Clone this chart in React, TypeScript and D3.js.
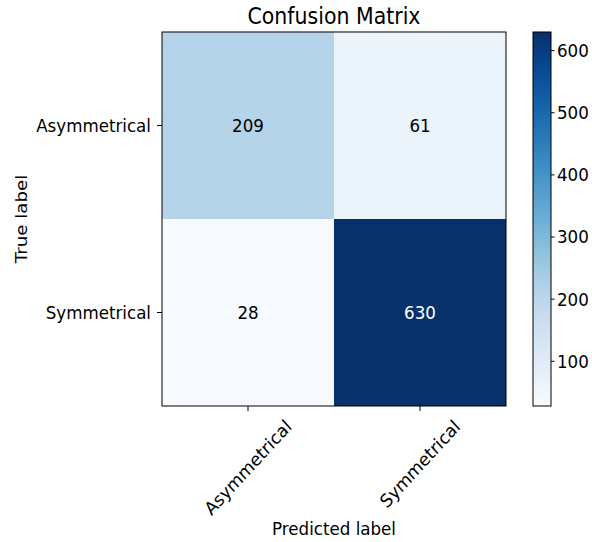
import React from 'react';
import * as d3 from 'd3';

const classes = ['Asymmetrical', 'Symmetrical'];
// rows = true label, cols = predicted label
const matrix = [
    [209, 61],
    [28, 630],
];
const colorbarTicks = [100, 200, 300, 400, 500, 600];

const W = 592, H = 542;
const left = 162, right = 506, top = 32, bottom = 406;
const cbLeft = 533, cbRight = 551;
const font = 'DejaVu Sans, sans-serif';
const fs = 16.7;
const sy = 1.09; // the reference is stretched a little vertically

// matplotlib's Blues is a linear ramp over the 9 brewer colours
const blues = d3.piecewise(d3.interpolateRgb, d3.schemeBlues[9]);

function Label({ x, y, rotate = 0, anchor = 'middle', size = fs, fill = '#000', dy = '0', children }: any) {
    return (
        <text transform={`translate(${x}, ${y}) scale(1, ${sy}) rotate(${rotate})`} dy={dy} textAnchor={anchor}
            fontFamily={font} fontSize={size} fill={fill}>{children}</text>
    );
}

export default function App() {
    const flat = matrix.flat();
    const vmin = d3.min(flat) as number;
    const vmax = d3.max(flat) as number;
    const color = d3.scaleSequential(blues).domain([vmin, vmax]);

    const scaleX = d3.scaleBand().domain(classes).range([left, right]);
    const scaleY = d3.scaleBand().domain(classes).range([top, bottom]);
    const cbScale = d3.scaleLinear().domain([vmin, vmax]).range([bottom, top]);

    const thresh = vmax / 2;
    const gradStops = d3.range(0, 1.0001, 0.05);

    return (
        <svg width={W} height={H} style={{ position: 'absolute', left: 0, top: 0 }} xmlns="http://www.w3.org/2000/svg">
            <rect x={0} y={0} width={W} height={H} fill="#fff" />
            <defs>
                <linearGradient id="cb" x1="0" y1="1" x2="0" y2="0">
                    {gradStops.map((t, i) => <stop key={i} offset={t} stopColor={blues(t)} />)}
                </linearGradient>
            </defs>

            <Label x={(left + right) / 2} y={24} size={20.5}>Confusion Matrix</Label>

            {matrix.map((row, r) => row.map((v, c) => (
                <g key={`cell_${r}_${c}`}>
                    <rect x={scaleX(classes[c])} y={scaleY(classes[r])} width={scaleX.bandwidth()} height={scaleY.bandwidth()} fill={color(v)} />
                    <Label
                        x={(scaleX(classes[c]) as number) + scaleX.bandwidth() / 2}
                        y={(scaleY(classes[r]) as number) + scaleY.bandwidth() / 2}
                        dy="0.35em" fill={v > thresh ? '#fff' : '#000'}>{v}</Label>
                </g>
            )))}
            <rect x={left} y={top} width={right - left} height={bottom - top} fill="none" stroke="#000" strokeWidth={1} />

            {/* y ticks */}
            {classes.map((c, i) => {
                const y = (scaleY(c) as number) + scaleY.bandwidth() / 2;
                return (
                    <g key={`ty_${i}`}>
                        <line x1={left} x2={left - 5} y1={y} y2={y} stroke="#000" />
                        <Label x={left - 11} y={y} dy="0.35em" anchor="end">{c}</Label>
                    </g>
                );
            })}

            {/* x ticks, rotated 45 and centred under the tick */}
            {classes.map((c, i) => {
                const x = (scaleX(c) as number) + scaleX.bandwidth() / 2;
                const len = c.length * 0.565 * fs;
                const box = (len + fs * 1.15) * Math.SQRT1_2 * sy;
                const cy = bottom + 10.5 + box / 2;
                return (
                    <g key={`tx_${i}`}>
                        <line x1={x} x2={x} y1={bottom} y2={bottom + 5} stroke="#000" />
                        <Label x={x} y={cy} dy="0.35em" rotate={-45}>{c}</Label>
                    </g>
                );
            })}

            <Label x={(left + right) / 2} y={535}>Predicted label</Label>
            <Label x={27} y={(top + bottom) / 2} rotate={-90}>True label</Label>

            {/* colorbar */}
            <rect x={cbLeft} y={top} width={cbRight - cbLeft} height={bottom - top} fill="url(#cb)" stroke="#000" strokeWidth={1} />
            {colorbarTicks.map((v, i) => (
                <g key={`cb_${i}`}>
                    <line x1={cbRight} x2={cbRight + 3.5} y1={cbScale(v)} y2={cbScale(v)} stroke="#000" />
                    <Label x={cbRight + 6} y={cbScale(v)} dy="0.35em" anchor="start">{v}</Label>
                </g>
            ))}
        </svg>
    );
}
